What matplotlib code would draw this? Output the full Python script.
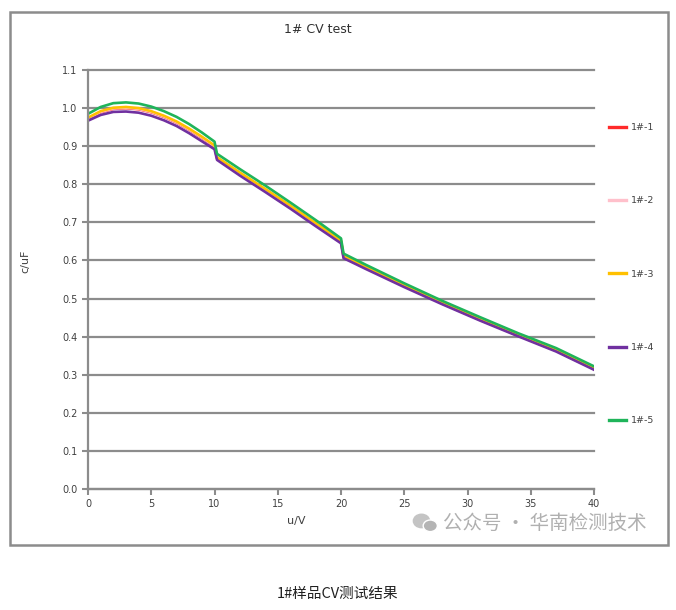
import matplotlib.pyplot as plt
from matplotlib.patches import Rectangle, Ellipse

plt.rcParams['font.family'] = ['DejaVu Sans', 'Noto Sans CJK SC']

# voltage points (V); the small steps at 10 and 20 V are range switches
u = [0, 1, 2, 3, 4, 5, 6, 7, 8, 9, 10, 10.2, 12, 14, 16, 18, 20, 20.2,
     22, 25, 28, 31, 34, 37, 40]

c_1 = [0.972, 0.989, 0.998, 1.000, 0.997, 0.989, 0.977, 0.962, 0.943, 0.922,
       0.899, 0.868, 0.828, 0.785, 0.741, 0.695, 0.650, 0.610, 0.580, 0.533,
       0.487, 0.444, 0.403, 0.363, 0.315]
c_2 = [0.973, 0.990, 0.999, 1.001, 0.998, 0.990, 0.978, 0.963, 0.944, 0.923,
       0.900, 0.869, 0.829, 0.786, 0.742, 0.696, 0.651, 0.611, 0.581, 0.534,
       0.488, 0.445, 0.404, 0.364, 0.316]
c_3 = [0.975, 0.992, 1.001, 1.003, 1.000, 0.992, 0.980, 0.965, 0.946, 0.925,
       0.902, 0.871, 0.831, 0.788, 0.744, 0.698, 0.652, 0.612, 0.582, 0.535,
       0.489, 0.446, 0.405, 0.365, 0.317]
c_4 = [0.967, 0.982, 0.990, 0.991, 0.988, 0.980, 0.968, 0.953, 0.934, 0.913,
       0.892, 0.864, 0.823, 0.780, 0.736, 0.690, 0.645, 0.606, 0.577, 0.530,
       0.485, 0.442, 0.401, 0.361, 0.313]
c_5 = [0.985, 1.003, 1.013, 1.015, 1.012, 1.004, 0.992, 0.977, 0.958, 0.936,
       0.912, 0.880, 0.840, 0.797, 0.752, 0.706, 0.658, 0.618, 0.588, 0.540,
       0.494, 0.451, 0.409, 0.370, 0.322]

labels = ['1#-1', '1#-2', '1#-3', '1#-4', '1#-5']
colors = ['#ff2a2a', '#ffc0cb', '#ffc000', '#7030a0', '#1fb45a']

xticks = [0, 5, 10, 15, 20, 25, 30, 35, 40]
yticks = [0.0, 0.1, 0.2, 0.3, 0.4, 0.5, 0.6, 0.7, 0.8, 0.9, 1.0, 1.1]

grey = '#8c8c8c'
txt = '#404040'

fig = plt.figure(figsize=(6.76, 6.10), dpi=100)
ax = fig.add_axes([0.1302, 0.1984, 0.7485, 0.6868])

for ys, col, lab in zip([c_1, c_2, c_3, c_4, c_5], colors, labels):
    ax.plot(u, ys, color=col, lw=1.9, label=lab, solid_joinstyle='round')

ax.set_xlim(0, 40)
ax.set_ylim(0, 1.1)
ax.set_xticks(xticks)
ax.set_yticks(yticks)
ax.set_yticklabels(['%.1f' % v for v in yticks])
ax.tick_params(colors=grey, labelcolor=txt, labelsize=7, length=4, width=1.5)
ax.yaxis.grid(True, color=grey, lw=1.6)
for gl in ax.get_ygridlines():
    gl.set_clip_on(False)
ax.set_axisbelow(True)
for side in ['top', 'right']:
    ax.spines[side].set_visible(False)
for side in ['left', 'bottom']:
    ax.spines[side].set_color(grey)
    ax.spines[side].set_linewidth(1.6)

leg = fig.legend(loc='upper left', bbox_to_anchor=(0.888, 0.812),
                 frameon=False, fontsize=6.8, handlelength=1.8,
                 handletextpad=0.5, labelspacing=6.8, labelcolor=txt)
for h in leg.get_lines():
    h.set_linewidth(2.4)

# chart border
fig.patches.append(Rectangle((0.0148, 0.1066), 0.973, 0.8737,
                             transform=fig.transFigure, fill=False,
                             edgecolor=grey, lw=1.8))

fig.text(0.47, 0.951, '1# CV test', ha='center', va='center',
         fontsize=9, color='#303030')
fig.text(0.438, 0.146, 'u/V', ha='center', va='center', fontsize=8, color=txt)
fig.text(0.038, 0.571, 'c/uF', ha='center', va='center', rotation=90,
         fontsize=8, color=txt)

# watermark
fig.patches.append(Ellipse((0.6235, 0.1460), 0.024, 0.022,
                           transform=fig.transFigure, color='#c4c4c4'))
fig.patches.append(Ellipse((0.6365, 0.1380), 0.021, 0.019,
                           transform=fig.transFigure, color='#b4b4b4',
                           ec='white', lw=1))
fig.text(0.655, 0.142, '公众号 · 华南检测技术', ha='left', va='center',
         fontsize=14, color='#b0b0b0', family=['Noto Sans CJK SC'])
fig.text(0.5, 0.026, '1#样品CV测试结果', ha='center', va='center',
         fontsize=10.5, color='#202020', family=['Noto Sans CJK SC'])

fig.savefig('out.png', dpi=100)
